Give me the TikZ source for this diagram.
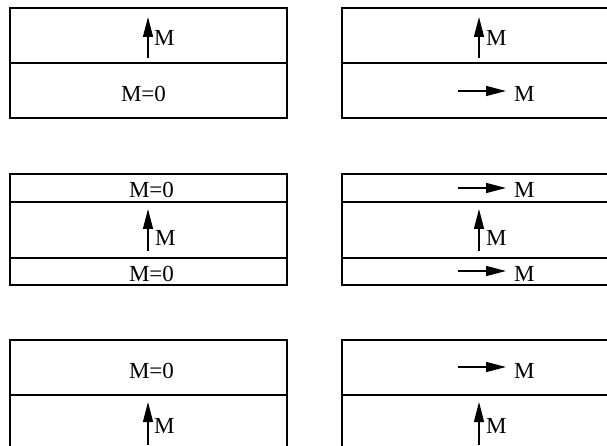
\documentclass[tikz,border=0pt]{standalone}
\usepackage{fontspec}
\setmainfont{Liberation Serif}
\usepackage{tikz}
\usetikzlibrary{arrows.meta}

\tikzset{
  layer/.style={line width=1.6pt},
  magvec/.style={line width=1.4pt,-{Triangle[length=20pt,width=10pt]}},
  lbl/.style={inner sep=0pt,font=\fontsize{23}{25}\selectfont}
}

\begin{document}
\begin{tikzpicture}[x=1pt,y=-1pt]

\useasboundingbox (0,0) rectangle (607,446);
\clip (0,0) rectangle (607,446);

% stacks of layers
\draw[layer] (10,8) rectangle (287,118);
\draw[layer] (10,63) -- (287,63);
\draw[layer] (342,8) rectangle (620,118);
\draw[layer] (342,63) -- (620,63);

\draw[layer] (10,174) rectangle (287,285);
\draw[layer] (10,202) -- (287,202);
\draw[layer] (10,258) -- (287,258);
\draw[layer] (342,174) rectangle (620,285);
\draw[layer] (342,202) -- (620,202);
\draw[layer] (342,258) -- (620,258);

\draw[layer] (10,340) rectangle (287,452);
\draw[layer] (10,395) -- (287,395);
\draw[layer] (342,340) rectangle (620,452);
\draw[layer] (342,395) -- (620,395);

% top row
\coordinate (upa) at (148,58);
\draw[magvec] (upa) -- ++(0,-41);
\node[lbl,anchor=base west] (ma) at (154,46) {M};
\node[lbl,anchor=base] (za) at (143.5,102) {M=0};

\coordinate (upb) at (479,58);
\draw[magvec] (upb) -- ++(0,-41);
\node[lbl,anchor=base west] (mb) at (486,46) {M};
\coordinate (inb) at (458,91);
\draw[magvec] (inb) -- ++(48,0);
\node[lbl,anchor=base west] (nb) at (514,102) {M};

% middle row
\node[lbl,anchor=base] (zc) at (151.5,198) {M=0};
\coordinate (upc) at (148,251);
\draw[magvec] (upc) -- ++(0,-42);
\node[lbl,anchor=base west] (mc) at (155,246) {M};
\node[lbl,anchor=base] (zd) at (151.5,281) {M=0};

\coordinate (ine) at (458,188);
\draw[magvec] (ine) -- ++(48,0);
\node[lbl,anchor=base west] (ne) at (514,198) {M};
\coordinate (upe) at (479,251);
\draw[magvec] (upe) -- ++(0,-42);
\node[lbl,anchor=base west] (me) at (486,246) {M};
\coordinate (inf) at (458,271);
\draw[magvec] (inf) -- ++(48,0);
\node[lbl,anchor=base west] (nf) at (514,281) {M};

% bottom row
\node[lbl,anchor=base] (zg) at (151.5,378) {M=0};
\coordinate (upg) at (148,445);
\draw[magvec] (upg) -- ++(0,-43);
\node[lbl,anchor=base west] (mg) at (154,433) {M};

\coordinate (inh) at (458,367);
\draw[magvec] (inh) -- ++(48,0);
\node[lbl,anchor=base west] (nh) at (514,378) {M};
\coordinate (uph) at (479,445);
\draw[magvec] (uph) -- ++(0,-43);
\node[lbl,anchor=base west] (mh) at (486,433) {M};

\end{tikzpicture}
\end{document}
